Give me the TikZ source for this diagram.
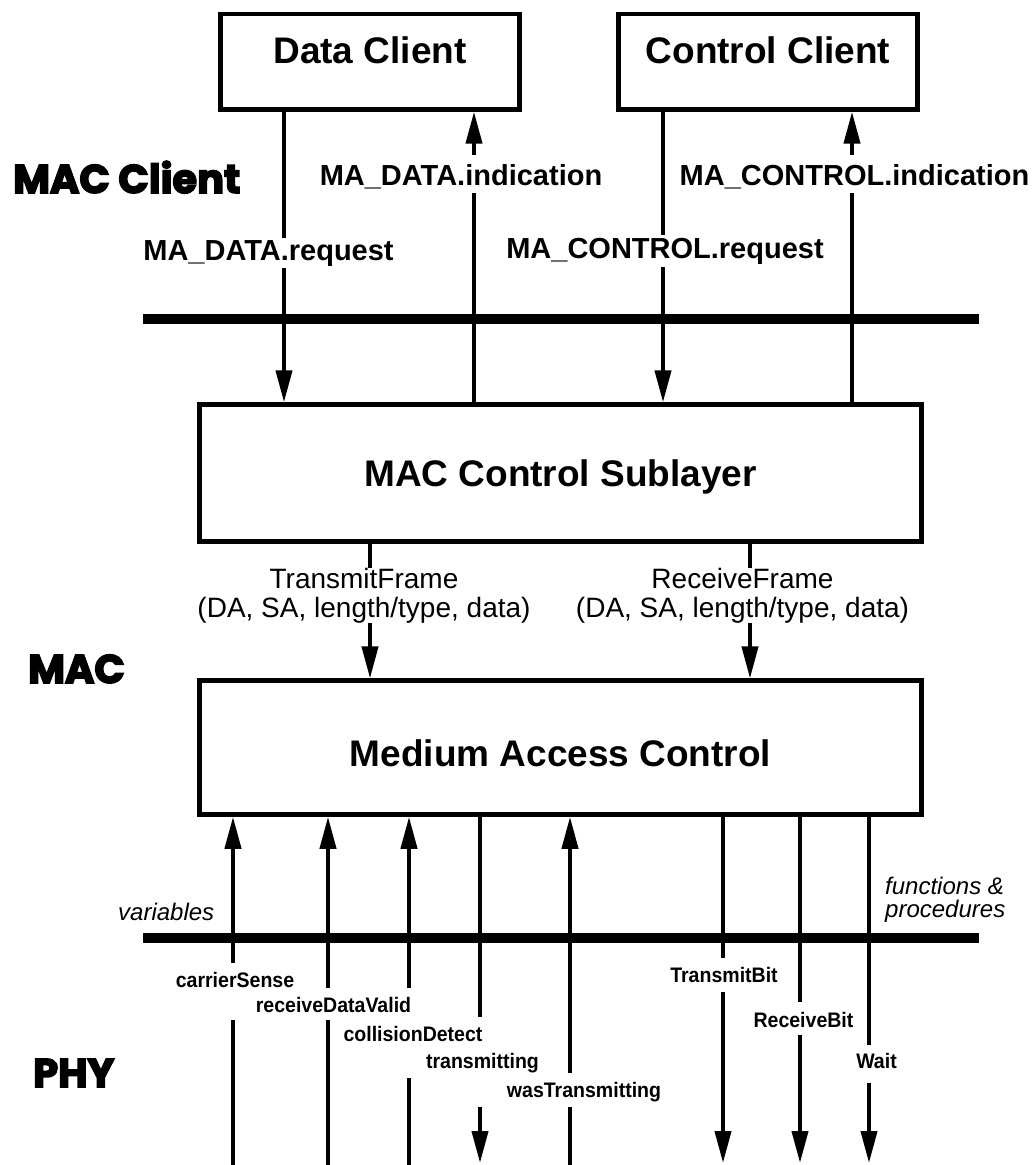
\documentclass[tikz,border=0pt]{standalone}
\usepackage{fontspec}
\setmainfont{Liberation Sans}
\newfontfamily\heavyfont{Poppins}[FakeBold=4]
\newfontfamily\narrowfont{Liberation Sans}[FakeStretch=0.93]
\usetikzlibrary{arrows.meta}
\begin{document}
\begin{tikzpicture}[x=1pt,y=-1pt,
  box/.style={draw, line width=4.3pt, inner sep=0pt, fill=white,
    font=\fontsize{37}{40}\selectfont\bfseries},
  conn/.style={line width=4pt, -{Triangle[length=32pt,width=16pt]}},
  bar/.style={line width=10pt},
  toplbl/.style={fill=white, inner xsep=2pt, inner ysep=0pt, anchor=base,
    font=\fontsize{29}{32}\selectfont\bfseries},
  framelbl/.style={fill=white, inner sep=0pt, align=center,
    font=\fontsize{28}{29}\selectfont},
  botlbl/.style={fill=white, inner xsep=2pt, inner ysep=0pt, anchor=base,
    font=\narrowfont\fontsize{21}{24}\selectfont\bfseries},
  layerlbl/.style={anchor=base west, inner sep=0pt,
    font=\heavyfont\fontsize{40}{44}\selectfont\bfseries},
  itlbl/.style={inner sep=0pt, font=\fontsize{24}{23}\selectfont\itshape}
]
\useasboundingbox (0,0) rectangle (1036,1165);

% column coordinates
\coordinate (xa) at (284,0);
\coordinate (xb) at (474,0);
\coordinate (xc) at (663,0);
\coordinate (xd) at (852,0);
\coordinate (xt) at (370,0);
\coordinate (xr) at (750,0);
\coordinate (b1) at (233,1165);
\coordinate (b2) at (328,1165);
\coordinate (b3) at (409,1165);
\coordinate (b4) at (480,1163);
\coordinate (b5) at (570,1165);
\coordinate (b6) at (723,1163);
\coordinate (b7) at (800,1163);
\coordinate (b8) at (869,1163);

% interface bars
\draw[bar] (143,319) -- (979,319);
\draw[bar] (143,938) -- (979,938);

% boxes
\node[box, minimum width=299pt, minimum height=95.5pt, text height=27pt, text depth=24.5pt]
  (dc) at (370,61.75) {Data Client};
\node[box, minimum width=299pt, minimum height=95.5pt, text height=27pt, text depth=24.5pt]
  (cc) at (768,61.75) {Control Client};
\node[box, minimum width=722pt, minimum height=137pt, text height=27.4pt, text depth=0pt]
  (mcs) at (560.5,473) {MAC Control Sublayer};
\node[box, minimum width=722pt, minimum height=134pt, text height=40pt, text depth=3.2pt]
  (mac) at (560.5,747.6) {Medium Access Control};

% client <-> sublayer
\draw[conn] (dc.south -| xa) -- (mcs.north -| xa);
\draw[conn] (mcs.north -| xb) -- (dc.south -| xb);
\draw[conn] (cc.south -| xc) -- (mcs.north -| xc);
\draw[conn] (mcs.north -| xd) -- (cc.south -| xd);

% sublayer -> MAC
\draw[conn] (mcs.south -| xt) -- (mac.north -| xt);
\draw[conn] (mcs.south -| xr) -- (mac.north -| xr);

% MAC <-> PHY
\draw[conn] (b1) -- (mac.south -| b1);
\draw[conn] (b2) -- (mac.south -| b2);
\draw[conn] (b3) -- (mac.south -| b3);
\draw[conn] (mac.south -| b4) -- (b4);
\draw[conn] (b5) -- (mac.south -| b5);
\draw[conn] (mac.south -| b6) -- (b6);
\draw[conn] (mac.south -| b7) -- (b7);
\draw[conn] (mac.south -| b8) -- (b8);

% top labels
\node[toplbl, text height=22pt, text depth=8pt] (lreq) at (268.5,260) {MA\_DATA.request};
\node[toplbl, text height=30pt, text depth=8pt] (lind) at (461,185) {MA\_DATA.indication};
\node[toplbl, text height=23pt, text depth=9pt] (lcreq) at (665,258) {MA\_CONTROL.request};
\node[toplbl, text height=30pt, text depth=8pt] (lcind) at (854.5,185) {MA\_CONTROL.indication};

% frame labels
\node[framelbl] (ltf) at (364,595.3) {TransmitFrame\\(DA, SA, length/type, data)};
\node[framelbl] (lrf) at (742.5,595.3) {ReceiveFrame\\(DA, SA, length/type, data)};

% bottom labels
\node[botlbl, text height=24pt, text depth=33pt] (lcs) at (235,987) {carrierSense};
\node[botlbl, text height=24pt, text depth=8pt] (lrdv) at (333.5,1012) {receiveDataValid};
\node[botlbl, text height=24pt, text depth=37pt] (lcd) at (413,1041) {collisionDetect};
\node[botlbl, text height=24pt, text depth=39pt] (ltr) at (482.5,1068) {transmitting};
\node[botlbl, text height=24pt, text depth=10pt] (lwt) at (584,1097) {wasTransmitting};
\node[botlbl, text height=24pt, text depth=10pt] (ltb) at (724,982) {TransmitBit};
\node[botlbl, text height=25pt, text depth=8pt] (lrb) at (803.5,1027) {ReceiveBit};
\node[botlbl, text height=23pt, text depth=15pt] (lw) at (876.5,1068) {Wait};

% italic notes
\node[itlbl, anchor=base west] (lvar) at (118,920) {variables};
\node[itlbl, anchor=north west, align=left] (lfp) at (885,876.5) {functions \&\\procedures};

% layer names
\node[layerlbl] (lmc) at (13,193) {MAC Client};
\node[layerlbl] (lmac) at (28,683) {MAC};
\node[layerlbl] (lphy) at (33,1087) {PHY};
\end{tikzpicture}
\end{document}
